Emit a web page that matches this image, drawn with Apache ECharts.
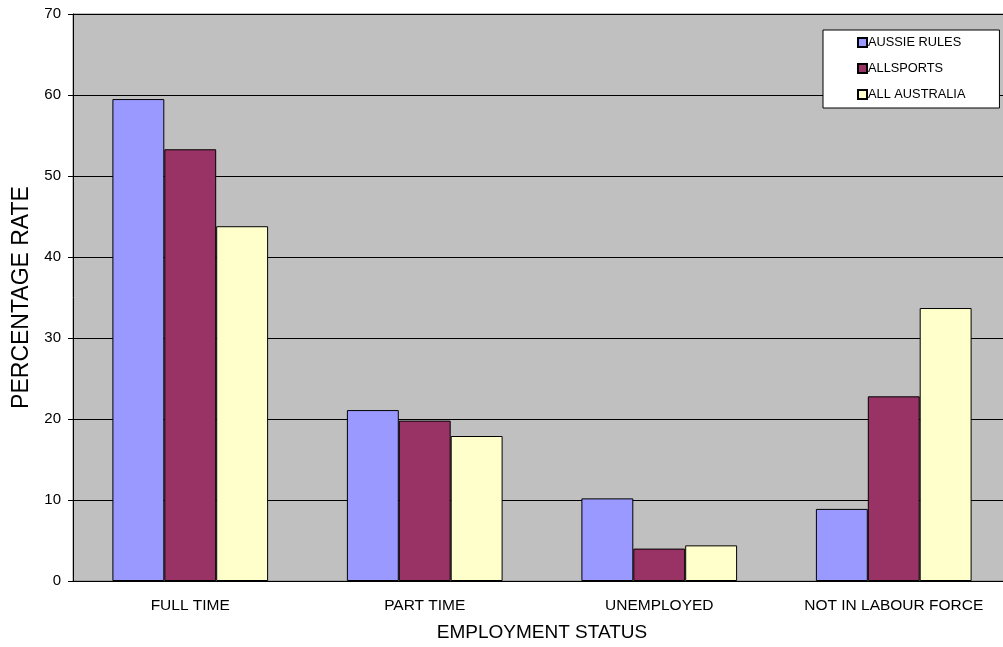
<!DOCTYPE html>
<html><head><meta charset="utf-8">
<script src="https://cdn.jsdelivr.net/npm/echarts@6/dist/echarts.min.js"></script>
<style>html,body{margin:0;padding:0;background:#fff;overflow:hidden}#c{width:1012px;height:647px}</style>
</head><body><div id="c"></div>
<script>
const categories = ['FULL TIME', 'PART TIME', 'UNEMPLOYED', 'NOT IN LABOUR FORCE'];
const aussieRules = [59.5, 21.1, 10.2, 8.9];
const allSports = [53.3, 19.8, 4.0, 22.8];
const allAustralia = [43.8, 17.9, 4.4, 33.7];
const seriesNames = ['AUSSIE RULES', 'ALLSPORTS', 'ALL AUSTRALIA'];
const colors = ['#9999FF', '#993366', '#FFFFCC'];
const font = 'Arial, "Liberation Sans", sans-serif';

const chart = echarts.init(document.getElementById('c'));
const mk = (name, data, color) => ({
  name, type: 'bar', data, barGap: '0%', barCategoryGap: '33.6%',
  itemStyle: { color, borderColor: '#000', borderWidth: 1 }
});
chart.setOption({
  animation: false,
  grid: { left: 73, right: 1, top: 14, height: 567, show: true, backgroundColor: '#C0C0C0', borderColor: '#808080', borderWidth: 1 },
  legend: {
    orient: 'vertical', left: 823, top: 30,
    backgroundColor: '#fff', borderColor: '#000', borderWidth: 1,
    padding: [6, 34, 7, 34], itemGap: 13, itemWidth: 9, itemHeight: 9,
    icon: 'rect',
    textStyle: { fontFamily: font, fontSize: 12.8, lineHeight: 13, color: '#000', padding: [0, 0, 0, -4] },
    data: seriesNames
  },
  xAxis: {
    type: 'category', data: categories,
    name: 'EMPLOYMENT STATUS', nameLocation: 'middle', nameGap: 42,
    nameTextStyle: { fontFamily: font, fontSize: 19, color: '#000' },
    axisLine: { lineStyle: { color: '#000' } },
    axisTick: { length: 6, lineStyle: { color: '#000' } },
    axisLabel: { interval: 0, fontFamily: font, fontSize: 15.5, color: '#000', margin: 17 }
  },
  yAxis: {
    type: 'value', min: 0, max: 70, interval: 10,
    name: 'PERCENTAGE RATE', nameLocation: 'middle', nameGap: 39, nameRotate: 90,
    nameTextStyle: { fontFamily: font, fontSize: 23, color: '#000' },
    axisLine: { show: true, lineStyle: { color: '#000' } },
    axisTick: { show: true, length: 5, lineStyle: { color: '#000' } },
    axisLabel: { fontFamily: font, fontSize: 15, color: '#000', margin: 12 },
    splitLine: { lineStyle: { color: '#000', width: 1 } }
  },
  series: [
    mk(seriesNames[0], aussieRules, colors[0]),
    mk(seriesNames[1], allSports, colors[1]),
    mk(seriesNames[2], allAustralia, colors[2])
  ]
});
</script></body></html>
